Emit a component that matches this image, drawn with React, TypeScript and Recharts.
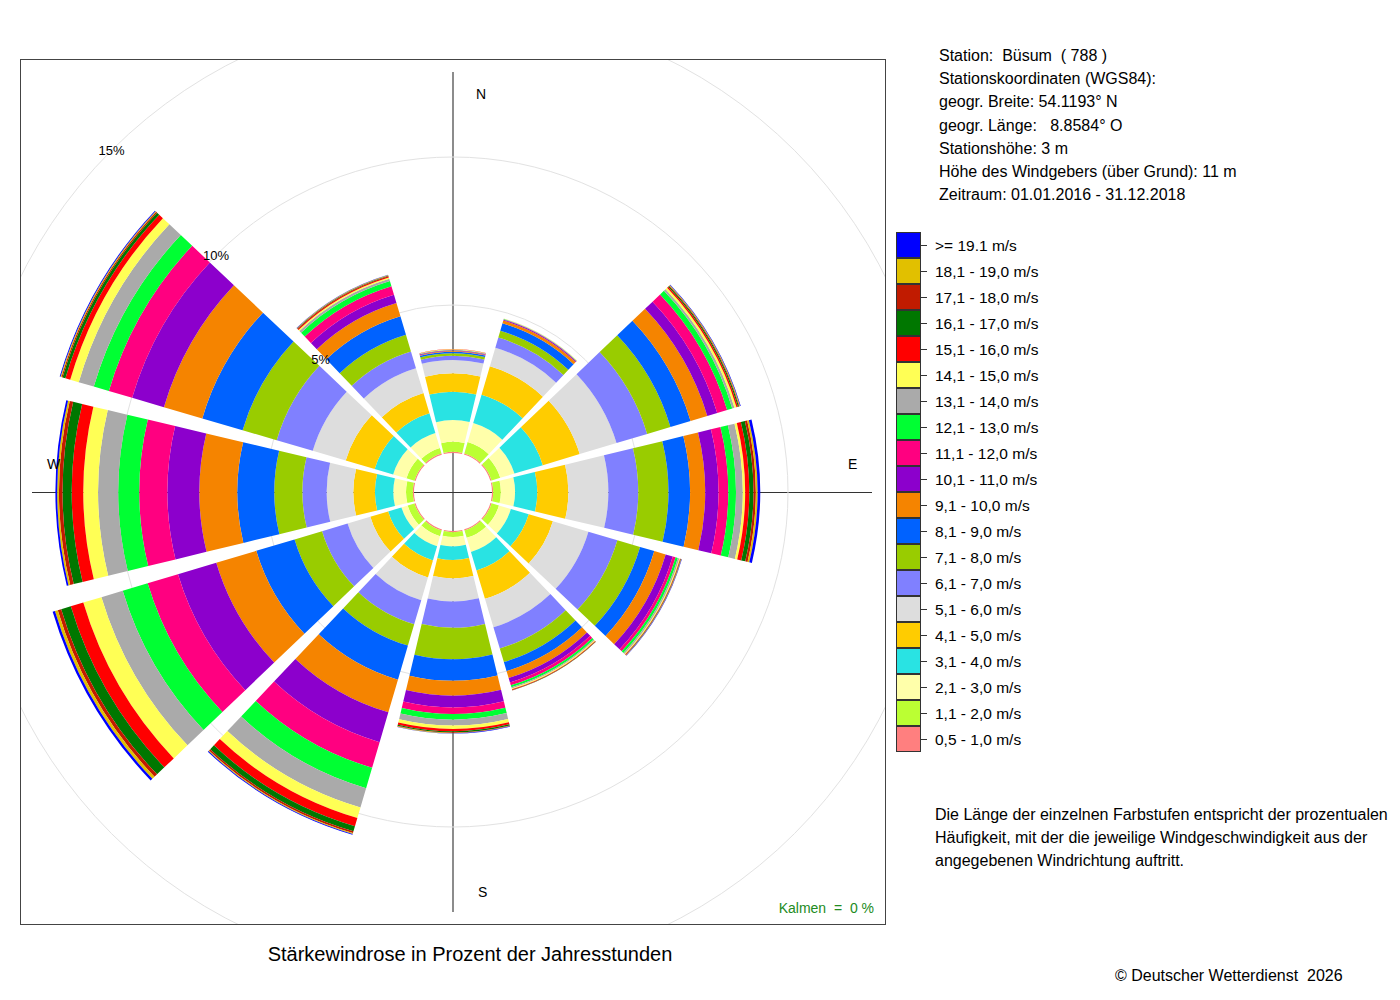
import React from "react";
import {
  RadialBarChart, RadialBar,
  PolarAngleAxis, PolarRadiusAxis, PolarGrid,
} from "recharts";

const FONT = '"Liberation Sans", Arial, Helvetica, sans-serif';

const DIRECTIONS = ["N", "30", "60", "E", "120", "150", "S", "210", "240", "W", "300", "330"];

const SPEED_CLASSES = [
  "0,5 - 1,0 m/s", "1,1 - 2,0 m/s", "2,1 - 3,0 m/s", "3,1 - 4,0 m/s", "4,1 - 5,0 m/s",
  "5,1 - 6,0 m/s", "6,1 - 7,0 m/s", "7,1 - 8,0 m/s", "8,1 - 9,0 m/s", "9,1 - 10,0 m/s",
  "10,1 - 11,0 m/s", "11,1 - 12,0 m/s", "12,1 - 13,0 m/s", "13,1 - 14,0 m/s", "14,1 - 15,0 m/s",
  "15,1 - 16,0 m/s", "16,1 - 17,0 m/s", "17,1 - 18,0 m/s", "18,1 - 19,0 m/s", ">= 19.1 m/s",
];

const CLASS_COLORS = [
  "#ff7f7f", "#bbff33", "#ffffaa", "#29e3e3", "#ffcc00",
  "#dddddd", "#8080ff", "#99cc00", "#0062ff", "#f58400",
  "#8c00cc", "#ff0080", "#00ff33", "#aaaaaa", "#ffff55",
  "#ff0000", "#007700", "#c11b00", "#e1c000", "#0000ff",
];

// share of the year's hours (%) per speed class, slowest first
const DIR_N   = [0.04, 0.34, 0.73, 0.96, 0.62, 0.45, 0.14, 0.09, 0.05, 0.02, 0.02, 0.01, 0.01, 0.01, 0.01, 0.01, 0, 0, 0, 0];
const DIR_030 = [0.04, 0.40, 0.67, 1.00, 1.00, 0.65, 0.36, 0.24, 0.26, 0.10, 0.03, 0.01, 0.01, 0.01, 0.01, 0, 0, 0, 0, 0];
const DIR_060 = [0.04, 0.31, 0.50, 1.00, 1.30, 1.30, 1.08, 0.82, 0.71, 0.59, 0.35, 0.35, 0.18, 0.08, 0.07, 0.05, 0.04, 0.02, 0.02, 0.02];
const DIR_E   = [0.04, 0.26, 0.48, 0.75, 1.05, 1.35, 1.01, 1.02, 0.73, 0.51, 0.45, 0.33, 0.26, 0.23, 0.08, 0.14, 0.14, 0.08, 0.06, 0.09];
const DIR_120 = [0.04, 0.26, 0.42, 0.63, 0.85, 1.25, 1.02, 0.80, 0.50, 0.40, 0.25, 0.10, 0.08, 0.05, 0.03, 0.02, 0.01, 0.01, 0.01, 0.01];
const DIR_150 = [0.04, 0.26, 0.50, 0.65, 1.00, 1.00, 0.75, 0.48, 0.32, 0.24, 0.16, 0.10, 0.07, 0.04, 0.03, 0.02, 0.01, 0.01, 0, 0];
const DIR_S   = [0.04, 0.16, 0.32, 0.46, 0.62, 0.78, 0.89, 1.06, 0.73, 0.50, 0.40, 0.22, 0.19, 0.20, 0.12, 0.07, 0.04, 0.02, 0.01, 0.01];
const DIR_210 = [0.04, 0.20, 0.35, 0.50, 0.60, 0.80, 0.85, 0.75, 1.20, 1.15, 1.05, 0.90, 0.72, 0.68, 0.37, 0.29, 0.18, 0.06, 0.03, 0.03];
const DIR_240 = [0.04, 0.24, 0.22, 0.47, 0.63, 0.80, 0.90, 0.97, 1.35, 1.41, 1.35, 1.07, 0.88, 0.75, 0.64, 0.44, 0.34, 0.12, 0.10, 0.08];
const DIR_W   = [0.04, 0.23, 0.43, 0.62, 0.73, 0.90, 0.82, 0.95, 1.25, 1.28, 1.08, 0.95, 0.71, 0.68, 0.50, 0.39, 0.31, 0.12, 0.06, 0.06];
const DIR_300 = [0.04, 0.28, 0.47, 0.65, 1.02, 1.16, 1.27, 1.20, 1.42, 1.35, 1.12, 0.82, 0.53, 0.53, 0.30, 0.17, 0.10, 0.04, 0.03, 0.03];
const DIR_330 = [0.04, 0.19, 0.53, 0.70, 0.71, 0.88, 0.59, 0.59, 0.65, 0.47, 0.29, 0.30, 0.18, 0.08, 0.05, 0.04, 0.02, 0.01, 0.01, 0.01];

const DIR_VALUES = [DIR_N, DIR_030, DIR_060, DIR_E, DIR_120, DIR_150, DIR_S, DIR_210, DIR_240, DIR_W, DIR_300, DIR_330];

const PCT_TICKS = [5, 10, 15];

const STATION_LINES = [
  "Station:  Büsum  ( 788 )",
  "Stationskoordinaten (WGS84):",
  "geogr. Breite: 54.1193° N",
  "geogr. Länge:   8.8584° O",
  "Stationshöhe: 3 m",
  "Höhe des Windgebers (über Grund): 11 m",
  "Zeitraum: 01.01.2016 - 31.12.2018",
];

const NOTE_LINES = [
  "Die Länge der einzelnen Farbstufen entspricht der prozentualen",
  "Häufigkeit, mit der die jeweilige Windgeschwindigkeit aus der",
  "angegebenen Windrichtung auftritt.",
];

const data = DIRECTIONS.map((dir, d) => {
  const row: Record<string, string | number> = { dir };
  DIR_VALUES[d].forEach((v, i) => { row[`c${i}`] = v; });
  return row;
});

function PctTick(props: any) {
  const { x, y, payload } = props;
  return (
    <text x={x} y={y} textAnchor="middle" dominantBaseline="central"
      fontSize={13} fill="#000" fontFamily={FONT}>
      {payload.value}%
    </text>
  );
}

function Txt({ left, cy, size = 16, color = "#000", children, lh = 22 }: any) {
  return (
    <div style={{
      position: "absolute", left, top: cy - lh / 2, height: lh, lineHeight: `${lh}px`,
      fontSize: size, color, whiteSpace: "pre", fontFamily: FONT,
    }}>
      {children}
    </div>
  );
}

export default function App() {
  return (
    <div style={{ position: "absolute", left: 0, top: 0, width: 1400, height: 1000, background: "#fff", fontFamily: FONT }}>
      {/* compass cross, under the bars */}
      <div style={{ position: "absolute", left: 452, top: 72, width: 2, height: 840, background: "#8c8c8c" }} />
      <div style={{ position: "absolute", left: 32, top: 492, width: 840, height: 1, background: "#333" }} />

      <div style={{ position: "absolute", left: 20, top: 59, width: 866, height: 866, overflow: "hidden" }}>
        <RadialBarChart
          width={866}
          height={866}
          data={data}
          layout="centric"
          cx={433}
          cy={433}
          innerRadius={39}
          outerRadius={512.6}
          startAngle={75}
          endAngle={-285}
          barCategoryGap="5.5%"
          margin={{ top: 0, right: 0, bottom: 0, left: 0 }}
        >
          <PolarGrid gridType="circle" radialLines={false} stroke="#e2e2e2" />
          <PolarAngleAxis type="category" dataKey="dir" tick={false} axisLine={false} tickLine={false} />
          {SPEED_CLASSES.map((name, i) => (
            <RadialBar
              key={name}
              dataKey={`c${i}`}
              name={name}
              stackId="rose"
              fill={CLASS_COLORS[i]}
              isAnimationActive={false}
            />
          ))}
          <PolarRadiusAxis
            type="number"
            domain={[0, 16]}
            ticks={PCT_TICKS}
            angle={135}
            axisLine={false}
            tickLine={false}
            tick={PctTick}
          />
        </RadialBarChart>
      </div>
      <div style={{ position: "absolute", left: 20, top: 59, width: 866, height: 866, border: "1px solid #444", boxSizing: "border-box", pointerEvents: "none" }} />

      <Txt left={476} cy={94} size={14}>N</Txt>
      <Txt left={848} cy={464} size={14}>E</Txt>
      <Txt left={478} cy={892} size={14}>S</Txt>
      <Txt left={47} cy={464} size={14}>W</Txt>

      <div style={{ position: "absolute", left: 600, top: 898, width: 274, textAlign: "right", fontSize: 14, color: "#228b22", whiteSpace: "pre", lineHeight: "20px" }}>
        Kalmen  =  0 %
      </div>

      <div style={{ position: "absolute", left: 20, top: 942, width: 900, textAlign: "center", fontSize: 20, lineHeight: "24px", color: "#000" }}>
        Stärkewindrose in Prozent der Jahresstunden
      </div>

      {STATION_LINES.map((line, i) => (
        <Txt key={line} left={939} cy={56 + i * 23.2} size={16}>{line}</Txt>
      ))}

      {/* legend, fastest class on top */}
      {SPEED_CLASSES.map((name, i) => {
        const row = SPEED_CLASSES.length - 1 - i;
        const top = 232 + row * 26;
        return (
          <React.Fragment key={name}>
            <div style={{ position: "absolute", left: 896, top, width: 25, height: 26, background: CLASS_COLORS[i], border: "1px solid #333", boxSizing: "border-box" }} />
            <div style={{ position: "absolute", left: 921, top: top + 13, width: 6, height: 1, background: "#333" }} />
            <Txt left={935} cy={top + 14} size={15.5}>{name}</Txt>
          </React.Fragment>
        );
      })}

      {NOTE_LINES.map((line, i) => (
        <Txt key={line} left={935} cy={815 + i * 23} size={16}>{line}</Txt>
      ))}

      <Txt left={1115} cy={976} size={16}>© Deutscher Wetterdienst  2026</Txt>
    </div>
  );
}
